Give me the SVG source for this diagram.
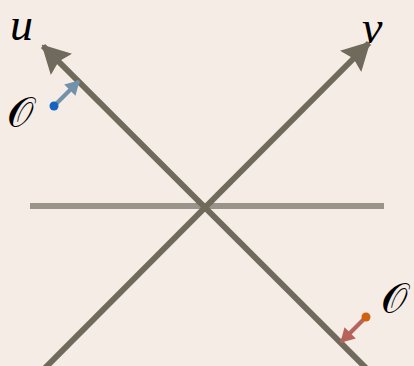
<svg xmlns="http://www.w3.org/2000/svg" width="414" height="366" viewBox="0 0 414 366">
<style>
.axis{stroke:#6f6a5b;stroke-width:6;fill:none}
.lbl{font-family:"Liberation Serif","DejaVu Serif",serif;font-style:italic;fill:#000}
.cal{font-family:"DejaVu Serif","Liberation Serif",serif;fill:#000}
</style>
<defs>
<marker id="ah" markerUnits="userSpaceOnUse" viewBox="0 0 28 30" refX="26" refY="15" markerWidth="28" markerHeight="30" orient="auto">
<path d="M0,0 L28,15 L0,30 L4,15 Z" fill="#6f6a5b"/>
</marker>
<marker id="ahb" markerUnits="userSpaceOnUse" viewBox="0 0 14 16" refX="13" refY="8" markerWidth="14" markerHeight="16" orient="auto">
<path d="M0,0 L14,8 L0,16 Z" fill="#7391a8"/>
</marker>
<marker id="aho" markerUnits="userSpaceOnUse" viewBox="0 0 14 16" refX="13" refY="8" markerWidth="14" markerHeight="16" orient="auto">
<path d="M0,0 L14,8 L0,16 Z" fill="#b6645b"/>
</marker>
</defs>
<rect width="414" height="366" fill="#f5ece5"/>
<g id="connectors">
<line x1="30" y1="206" x2="384" y2="206" stroke="#999389" stroke-width="6"/>
<line class="axis" x1="45" y1="368" x2="369" y2="43" marker-end="url(#ah)"/>
<line class="axis" x1="366" y1="368" x2="43" y2="46" marker-end="url(#ah)"/>
<line x1="54" y1="106" x2="79" y2="81" stroke="#7391a8" stroke-width="4" marker-end="url(#ahb)"/>
<line x1="366" y1="317" x2="341" y2="342" stroke="#b6645b" stroke-width="4" marker-end="url(#aho)"/>
</g>
<g id="u-label"><text class="lbl" x="10" y="40" font-size="46">u</text></g>
<g id="v-label"><text class="lbl" x="362" y="43" font-size="46">v</text></g>
<g id="origin-blue"><circle cx="54" cy="106" r="4.5" fill="#1565c0"/><text class="cal" x="7" y="127" font-size="42">𝒪</text></g>
<g id="origin-orange"><circle cx="366" cy="317" r="4.5" fill="#d0620f"/><text class="cal" x="381" y="313" font-size="42">𝒪</text></g>
</svg>
